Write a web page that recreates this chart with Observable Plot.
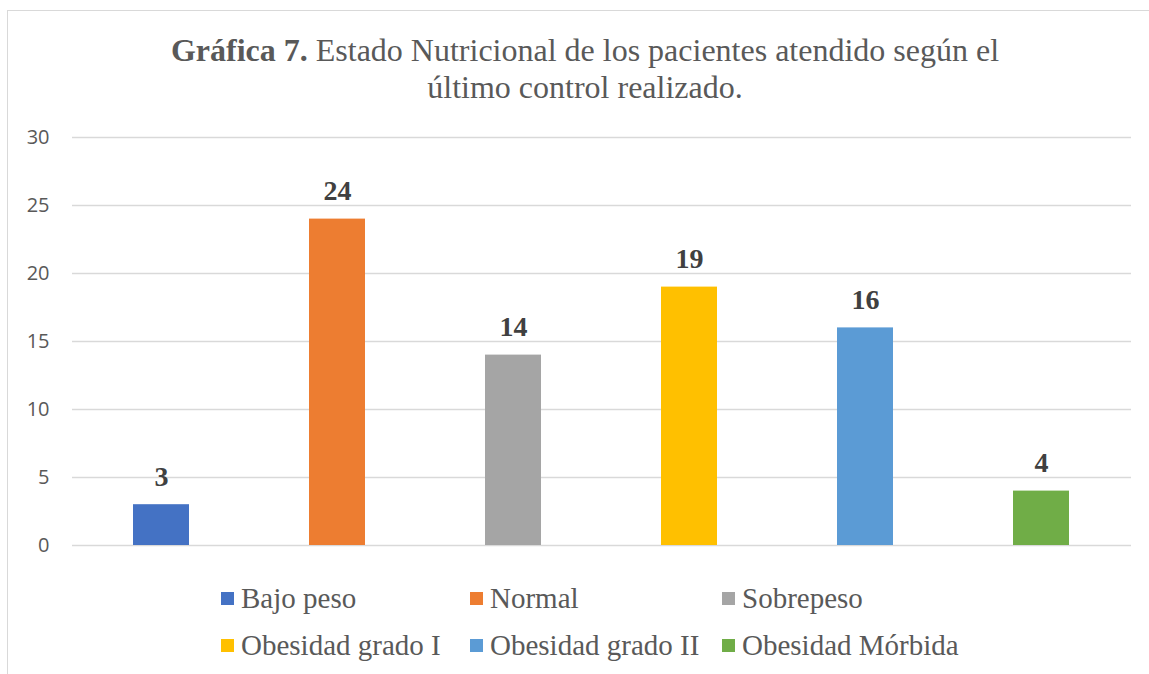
<!DOCTYPE html>
<html><head><meta charset="utf-8">
<script src="https://cdn.jsdelivr.net/npm/d3@7"></script>
<script src="https://cdn.jsdelivr.net/npm/@observablehq/plot@0.6"></script>
<style>
body{margin:0;background:#fff;}
#wrap{position:relative;width:1149px;height:674px;overflow:hidden;background:#fff;}
#frame{position:absolute;left:7px;top:10px;width:1200px;height:700px;border-left:1px solid #d9d9d9;border-top:1px solid #d9d9d9;}
#title{position:absolute;left:0;width:1170px;top:32px;text-align:center;font-family:"Liberation Serif",serif;font-size:32px;color:#595959;line-height:37px;white-space:nowrap;}
#chart{position:absolute;left:0;top:120px;}
#legend{position:absolute;left:221px;top:580px;display:grid;grid-template-columns:249px 252px auto;row-gap:10px;font-family:"Liberation Serif",serif;font-size:29px;color:#595959;}
.item{display:flex;align-items:center;height:37px;white-space:nowrap;}
.sw{width:13px;height:13px;margin-right:7px;flex:none;}
</style>
</head><body>
<div id="wrap">
  <div id="frame"></div>
  <div id="title"><b>Gráfica 7.</b> Estado Nutricional de los pacientes atendido según el<br>último control realizado.</div>
  <div id="chart"></div>
  <div id="legend"></div>
</div>
<script>
const categories = ["Bajo peso", "Normal", "Sobrepeso", "Obesidad grado I", "Obesidad grado II", "Obesidad Mórbida"];
const values = [3, 24, 14, 19, 16, 4];
const colors = ["#4472C4", "#ED7D31", "#A5A5A5", "#FFC000", "#5B9BD5", "#70AD47"];
const yTicks = [0, 5, 10, 15, 20, 25, 30];

const data = categories.map((c, i) => ({cat: c, value: values[i]}));

const chart = Plot.plot({
  width: 1149,
  height: 450,
  marginLeft: 72,
  marginRight: 18,
  marginTop: 17,
  marginBottom: 25,
  style: {fontFamily: "'Open Sans', sans-serif", fontSize: "20px", color: "#595959", background: "transparent"},
  x: {domain: categories, paddingInner: 0.68, paddingOuter: 0.34, axis: null},
  y: {domain: [0, 30]},
  color: {domain: categories, range: colors},
  marks: [
    Plot.gridY(yTicks, {stroke: "#d9d9d9", strokeOpacity: 1, strokeWidth: 1.3}),
    Plot.axisY(yTicks, {tickSize: 0, tickPadding: 23, label: null, fill: "#595959"}),
    Plot.barY(data, {x: "cat", y: "value", fill: "cat"}),
    Plot.text(data, {x: "cat", y: "value", text: d => String(d.value), dy: -19, lineAnchor: "bottom",
      fontFamily: "'Liberation Serif', serif", fontWeight: "bold", fontSize: 28, fill: "#404040"})
  ]
});
document.getElementById("chart").appendChild(chart);

const legend = document.getElementById("legend");
categories.forEach((c, i) => {
  const it = document.createElement("div");
  it.className = "item";
  const sw = document.createElement("span");
  sw.className = "sw";
  sw.style.background = colors[i];
  const t = document.createElement("span");
  t.textContent = c;
  it.appendChild(sw); it.appendChild(t);
  legend.appendChild(it);
});
</script>
</body></html>
